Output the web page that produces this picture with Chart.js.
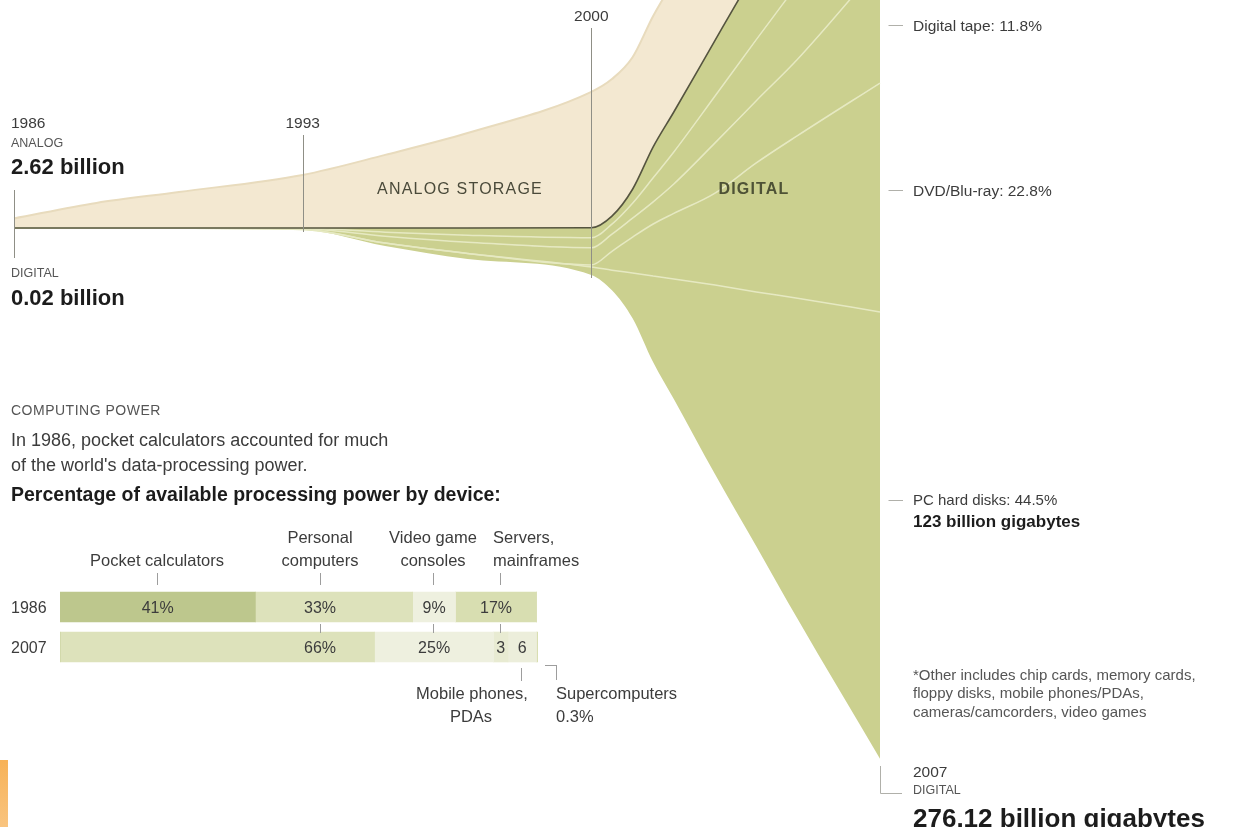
<!DOCTYPE html>
<html><head><meta charset="utf-8">
<script src="https://cdn.jsdelivr.net/npm/chart.js@4.4.1/dist/chart.umd.min.js"></script>
<style>
html,body{margin:0;padding:0;background:#fff;}
body{width:1244px;height:827px;position:relative;overflow:hidden;font-family:"Liberation Sans",Arial,sans-serif;color:#3c3c3c;}
canvas{position:absolute;}
.t{position:absolute;white-space:nowrap;}
.k{position:absolute;background:#9d9d9d;}
</style></head><body>
<canvas id="stream" width="1244" height="827" style="left:0;top:0"></canvas>
<canvas id="bars" width="478" height="80" style="left:60px;top:587px"></canvas>
<script>
// ---------- storage data (billions of gigabytes) ----------
const years = [1986, 1988, 1990, 1993, 1995, 1997, 2000, 2000.5, 2001, 2001.5, 2002, 2003, 2004, 2005, 2007];
const digitalBelowBaseline = [0.02, 0.05, 0.1, 0.5, 4.95, 8.5, 12.9, 17.1, 24.8, 36.9, 47.0, 67.7, 87.5, 107.5, 146.0];
const pcHardDisks        = [0.005, 0.01, 0.02, 0.1, 0.8, 1.5, 2.2, 5.5, 12.4, 23.7, 33.0, 52.0, 69.9, 88.2, 122.9];
const dvdBluray          = [0, 0, 0, 0, 0, 0, 0.55, 5.2, 9.9, 14.3, 18.0, 25.3, 35.5, 44.7, 62.96];
const digitalTape        = [0.01, 0.02, 0.04, 0.2, 1.9, 3.1, 4.7, 4.7, 5.2, 6.1, 8.1, 13.8, 17.1, 21.0, 32.58];
const otherLower         = [0.0025, 0.01, 0.02, 0.1, 1.1, 1.9, 2.75, 2.75, 4.1, 6.6, 8.8, 12.9, 16.8, 20.6, 25.0];
const otherUpper         = [0.0025, 0.01, 0.02, 0.1, 1.15, 2.0, 2.75, 2.2, 3.85, 8.5, 11.0, 15.3, 19.4, 23.5, 32.68];
const analogStorage      = [2.62, 6.9, 9.9, 14.6, 20.1, 26.1, 37.4, 37.7, 36.3, 36.0, 36.0, 34, 31, 27, 19];

// ---------- computing power data (%) ----------
const computeYears = ['1986', '2007'];
const pocketCalculators = [41, 0];
const personalComputers = [33, 66];
const videoGameConsoles = [9, 25];
const serversMainframes = [17, 3];
const mobilePhonesPDAs  = [0, 6];
const supercomputers    = [0, 0.3];

// ---------- styles ----------
const GREEN = '#cbd08f', PALE = '#e6e9c2', DARK = '#55543f', CREAM = '#f3e8d1', CREAM_EDGE = '#e8dbbd';

// cumulative boundaries
const boundaries = [];
let run = years.map((_, i) => -digitalBelowBaseline[i]);
boundaries.push(run.slice());
for (const layer of [pcHardDisks, dvdBluray, digitalTape, otherLower, otherUpper, analogStorage]) {
  run = run.map((v, i) => v + layer[i]);
  boundaries.push(run.slice());
}
const pts = b => years.map((y, i) => ({x: y, y: b[i]}));

const guides = {
  id: 'guides',
  afterDatasetsDraw(chart) {
    const {ctx, scales: {x}} = chart;
    ctx.save();
    ctx.strokeStyle = '#8f8f86'; ctx.lineWidth = 1;
    const px = yr => Math.round(x.getPixelForValue(yr)) + 0.5;
    const seg = (x0, y0, x1, y1) => { ctx.beginPath(); ctx.moveTo(x0, y0); ctx.lineTo(x1, y1); ctx.stroke(); };
    seg(px(1986), 190, px(1986), 258);
    seg(px(1993), 135, px(1993), 232);
    seg(px(2000), 28, px(2000), 278);
    ctx.strokeStyle = '#b0b0aa';
    const e = px(2007);
    seg(e, 766, e, 793.5); seg(e, 793.5, 902, 793.5);
    [25.5, 190.5, 500.5].forEach(y => seg(e + 8, y, 903, y));
    ctx.restore();
  }
};

const stream = new Chart(document.getElementById('stream'), {
  type: 'line',
  data: {
    datasets: [
      {label: 'Digital bottom', data: pts(boundaries[0]), borderWidth: 0, fill: false},
      {label: 'PC hard disks', data: pts(boundaries[1]), fill: '-1', backgroundColor: GREEN, borderColor: PALE, borderWidth: 1.5},
      {label: 'DVD/Blu-ray', data: pts(boundaries[2]), fill: '-1', backgroundColor: GREEN, borderColor: PALE, borderWidth: 1.5},
      {label: 'Digital tape', data: pts(boundaries[3]), fill: '-1', backgroundColor: GREEN, borderColor: PALE, borderWidth: 1.5},
      {label: 'Other* (lower)', data: pts(boundaries[4]), fill: '-1', backgroundColor: GREEN, borderColor: PALE, borderWidth: 1.5},
      {label: 'Other* (upper)', data: pts(boundaries[5]), fill: '-1', backgroundColor: GREEN, borderColor: DARK, borderWidth: 1.6, order: -1},
      {label: 'Analog storage', data: pts(boundaries[6]), fill: '-1', backgroundColor: CREAM, borderColor: CREAM_EDGE, borderWidth: 2}
    ]
  },
  options: {
    responsive: false, animation: false,
    layout: {padding: 0},
    elements: {point: {radius: 0}, line: {cubicInterpolationMode: 'monotone'}},
    scales: {
      x: {type: 'linear', display: false, min: 1985.6605, max: 2015.827},
      y: {type: 'linear', display: false, min: -164.74, max: 62.70}
    },
    plugins: {legend: {display: false}, tooltip: {enabled: false}, filler: {drawTime: 'beforeDatasetsDraw'}}
  },
  plugins: [guides]
});

const bars = new Chart(document.getElementById('bars'), {
  type: 'bar',
  data: {
    labels: computeYears,
    datasets: [
      {label: 'Pocket calculators', data: pocketCalculators, backgroundColor: '#bdc78d'},
      {label: 'Personal computers', data: personalComputers, backgroundColor: '#dde2bb'},
      {label: 'Video game consoles', data: videoGameConsoles, backgroundColor: '#eef0df'},
      {label: 'Servers, mainframes', data: serversMainframes, backgroundColor: ['#d8deb1', '#e8ebd2']},
      {label: 'Mobile phones, PDAs', data: mobilePhonesPDAs, backgroundColor: '#eceedb'},
      {label: 'Supercomputers', data: supercomputers, backgroundColor: '#d8deb1'}
    ]
  },
  options: {
    indexAxis: 'y', responsive: false, animation: false,
    layout: {padding: 0},
    datasets: {bar: {barThickness: 30, borderWidth: 0}},
    scales: {
      x: {stacked: true, display: false, min: 0, max: 100.3},
      y: {stacked: true, display: false}
    },
    plugins: {legend: {display: false}, tooltip: {enabled: false}}
  }
});

// ---------- text ----------
function addText(txt, x, yc, o = {}) {
  const size = o.size || 15;
  const d = document.createElement('div');
  d.className = 't'; d.textContent = txt;
  d.style.fontSize = size + 'px';
  d.style.lineHeight = Math.round(size * 1.2) + 'px';
  d.style.top = (yc - Math.round(size * 1.2) / 2) + 'px';
  d.style.left = x + 'px';
  if (o.weight) d.style.fontWeight = o.weight;
  d.style.color = o.color || '#3c3c3c';
  if (o.ls) d.style.letterSpacing = o.ls + 'px';
  if (o.align === 'center') d.style.transform = 'translateX(-50%)';
  document.body.appendChild(d);
}
function tick(x, y0, y1) {
  const d = document.createElement('div'); d.className = 'k';
  d.style.left = x + 'px'; d.style.top = y0 + 'px'; d.style.width = '1px'; d.style.height = (y1 - y0) + 'px';
  document.body.appendChild(d);
}
function hline(x0, x1, y) {
  const d = document.createElement('div'); d.className = 'k';
  d.style.left = x0 + 'px'; d.style.top = y + 'px'; d.style.width = (x1 - x0) + 'px'; d.style.height = '1px';
  document.body.appendChild(d);
}
const sx = stream.scales.x;
const GRAY = '#555';
addText('1986', 11, 122, {size: 15.5});
addText('ANALOG', 11, 143, {size: 12.5, color: GRAY});
addText('2.62 billion', 11, 167, {size: 22, weight: 'bold', color: '#1c1c1c'});
addText('DIGITAL', 11, 273, {size: 12.5, color: GRAY});
addText('0.02 billion', 11, 298, {size: 22, weight: 'bold', color: '#1c1c1c'});
addText('1993', sx.getPixelForValue(1993), 122, {size: 15.5, align: 'center'});
addText('2000', sx.getPixelForValue(2000), 15, {size: 15.5, align: 'center'});
addText('ANALOG STORAGE', 460, 188, {size: 16, ls: 1.2, color: '#4a4a3a', align: 'center'});
addText('DIGITAL', 754, 188, {size: 16, weight: 'bold', ls: 1.2, color: '#4e5236', align: 'center'});

addText('Digital tape: 11.8%', 913, 25, {size: 15.5});
addText('DVD/Blu-ray: 22.8%', 913, 190, {size: 15.5});
addText('PC hard disks: 44.5%', 913, 500, {size: 15});
addText('123 billion gigabytes', 913, 522, {size: 17, weight: 'bold', color: '#1c1c1c'});
addText('*Other includes chip cards, memory cards,', 913, 675, {size: 15, color: GRAY});
addText('floppy disks, mobile phones/PDAs,', 913, 693, {size: 15, color: GRAY});
addText('cameras/camcorders, video games', 913, 712, {size: 15, color: GRAY});
addText('2007', 913, 771, {size: 15.5});
addText('DIGITAL', 913, 790, {size: 12.5, color: GRAY});
addText('276.12 billion gigabytes', 913, 818, {size: 26, weight: 'bold', color: '#1c1c1c'});

addText('COMPUTING POWER', 11, 410, {size: 14, ls: 0.5, color: GRAY});
addText('In 1986, pocket calculators accounted for much', 11, 440, {size: 18});
addText("of the world's data-processing power.", 11, 465, {size: 18});
addText('Percentage of available processing power by device:', 11, 494, {size: 19.5, weight: 'bold', color: '#1c1c1c'});

addText('Pocket calculators', 157, 560, {size: 16.5, align: 'center'});
addText('Personal', 320, 537, {size: 16.5, align: 'center'});
addText('computers', 320, 560, {size: 16.5, align: 'center'});
addText('Video game', 433, 537, {size: 16.5, align: 'center'});
addText('consoles', 433, 560, {size: 16.5, align: 'center'});
addText('Servers,', 493, 537, {size: 16.5});
addText('mainframes', 493, 560, {size: 16.5});
addText('Mobile phones,', 472, 693, {size: 16.5, align: 'center'});
addText('PDAs', 471, 716, {size: 16.5, align: 'center'});
addText('Supercomputers', 556, 693, {size: 16.5});
addText('0.3%', 556, 716, {size: 16.5});

// bar row labels and value labels from the bar chart scales
const bx = bars.scales.x, by = bars.scales.y;
const cLeft = 60, cTop = 587;
const pcAnchor = 320; // header column position for personal computers
computeYears.forEach((yr, r) => {
  const yc = cTop + by.getPixelForValue(r);
  addText(yr, 11, yc, {size: 16});
  let cum = 0;
  bars.data.datasets.forEach((ds, di) => {
    const v = ds.data[r];
    const x0 = bx.getPixelForValue(cum), x1 = bx.getPixelForValue(cum + v);
    cum += v;
    const w = x1 - x0;
    if (v <= 0 || w < 5) return;
    const txt = w < 32 ? String(v) : v + '%';
    const xc = di === 1 ? pcAnchor : cLeft + (x0 + x1) / 2;
    addText(txt, xc, yc, {size: 16, align: 'center'});
  });
});

// connector ticks
[157, 320, 433, 500].forEach(x => tick(x, 573, 585));
[320, 433, 500].forEach(x => tick(x, 624, 633));
tick(521, 668, 681);
hline(545, 557, 665); tick(556, 665, 680);

// orange edge block
const ob = document.createElement('div');
ob.style.cssText = 'position:absolute;left:0;top:760px;width:8px;height:67px;background:linear-gradient(#f7b257,#f9c47f);';
document.body.appendChild(ob);
</script>
</body></html>
